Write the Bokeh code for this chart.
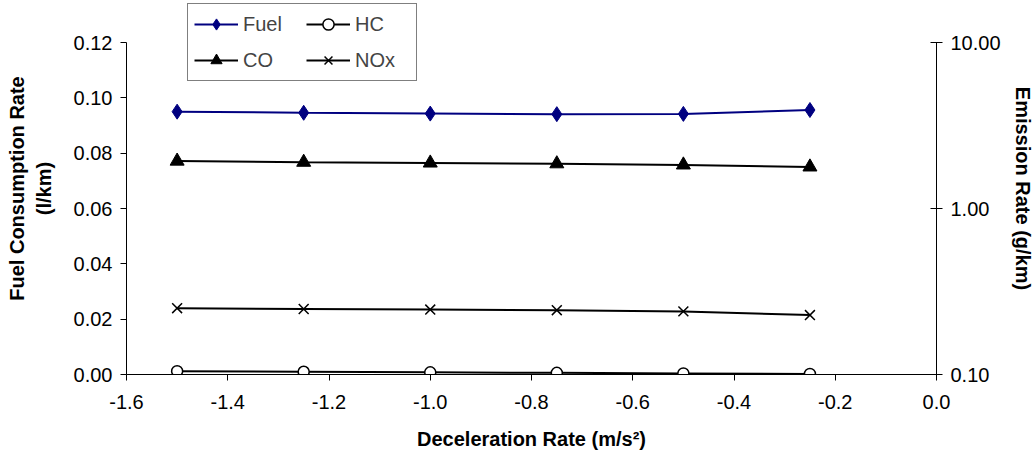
from bokeh.plotting import figure
from bokeh.models import (Range1d, LogScale, LogAxis, LinearAxis, FixedTicker,
                          PrintfTickFormatter, Legend, LegendItem)
from bokeh.embed import file_html
from bokeh.resources import INLINE

decel = [-1.5, -1.25, -1.0, -0.75, -0.5, -0.25]
fuel = [0.0950, 0.0946, 0.0943, 0.0941, 0.0942, 0.0956]
co = [1.93, 1.90, 1.88, 1.86, 1.83, 1.78]
hc = [0.1047, 0.1039, 0.1031, 0.1023, 0.1015, 0.1008]
nox = [0.251, 0.248, 0.246, 0.244, 0.240, 0.228]

x_ticks = [-1.6, -1.4, -1.2, -1.0, -0.8, -0.6, -0.4, -0.2, 0.0]
left_ticks = [0.0, 0.02, 0.04, 0.06, 0.08, 0.10, 0.12]
right_ticks = [0.1, 1.0, 10.0]

FONT = "Liberation Sans"
FS = "20px"

# frame spans y=2..374 px; axes cover 42..374 px
left_top = 0.12 * 372.0 / 332.0
right_top = 10 ** (1 + 40.0 / 166.0)

p = figure(width=1036, height=459, output_backend="svg", toolbar_location=None,
           x_range=Range1d(-1.6, 0.0), y_range=Range1d(0.0, left_top),
           min_border_left=126, min_border_right=98, min_border_top=2,
           min_border_bottom=85, y_axis_location=None)
p.extra_y_ranges = {"em": Range1d(0.1, right_top)}
p.extra_y_scales = {"em": LogScale()}
p.outline_line_color = None
p.xgrid.visible = False
p.ygrid.visible = False
p.background_fill_color = "white"
p.border_fill_color = "white"

def style_axis(ax):
    ax.axis_line_color = "black"
    ax.axis_line_width = 1
    ax.major_tick_line_color = "black"
    ax.minor_tick_line_color = None
    ax.major_label_text_font = FONT
    ax.major_label_text_font_size = FS
    ax.major_label_text_color = "black"
    ax.axis_label_text_font = FONT
    ax.axis_label_text_font_size = FS
    ax.axis_label_text_font_style = "bold"
    ax.axis_label_text_color = "black"

xa = p.xaxis[0]
style_axis(xa)
xa.ticker = FixedTicker(ticks=x_ticks)
xa.formatter = PrintfTickFormatter(format="%.1f")
xa.major_tick_in = 0
xa.major_tick_out = 6
xa.major_label_standoff = 14
xa.axis_label = "Deceleration Rate (m/s\u00b2)"
xa.axis_label_standoff = 16

la = LinearAxis(ticker=FixedTicker(ticks=left_ticks),
                formatter=PrintfTickFormatter(format="%.2f"),
                axis_label="Fuel Consumption Rate\n(l/km)", bounds=(0.0, 0.12))
style_axis(la)
la.major_tick_in = 0
la.major_tick_out = 6
la.major_label_standoff = 8
la.axis_label_standoff = 16
p.add_layout(la, "left")

ra = LogAxis(y_range_name="em", ticker=FixedTicker(ticks=right_ticks),
             formatter=PrintfTickFormatter(format="%.2f"),
             axis_label="Emission Rate (g/km)", bounds=(0.1, 10.0))
style_axis(ra)
ra.major_tick_in = 6
ra.major_tick_out = 6
ra.major_label_standoff = 8
ra.axis_label_standoff = 8
ra.axis_label_orientation = "vertical"
p.add_layout(ra, "right")

r_fuel_l = p.line(decel, fuel, line_color="#000080", line_width=2)
r_fuel_m = p.scatter(decel, fuel, marker="diamond", size=15,
                     fill_color="#000080", line_color="#000080")

r_hc_l = p.line(decel, hc, line_color="black", line_width=2, y_range_name="em")
r_hc_m = p.scatter(decel, hc, marker="circle", size=11, fill_color="white",
                   line_color="black", line_width=1.5, y_range_name="em")

r_co_l = p.line(decel, co, line_color="black", line_width=2, y_range_name="em")
r_co_m = p.scatter(decel, co, marker="triangle", size=14, fill_color="black",
                   line_color="black", y_range_name="em")

r_nox_l = p.line(decel, nox, line_color="black", line_width=2, y_range_name="em")
r_nox_m = p.scatter(decel, nox, marker="x", size=14, line_color="black",
                    line_width=1.5, y_range_name="em")

legend = Legend(items=[
    LegendItem(label="Fuel", renderers=[r_fuel_l, r_fuel_m]),
    LegendItem(label="CO", renderers=[r_co_l, r_co_m]),
    LegendItem(label="HC", renderers=[r_hc_l, r_hc_m]),
    LegendItem(label="NOx", renderers=[r_nox_l, r_nox_m]),
], location=(61, 293), ncols=2)
legend.border_line_color = "black"
legend.border_line_width = 1
legend.background_fill_alpha = 1
legend.label_text_font = FONT
legend.label_text_font_size = FS
legend.glyph_width = 44
legend.glyph_height = 28
legend.label_width = 55
legend.spacing = 8
legend.padding = 6
legend.margin = 0
legend.label_standoff = 5
p.add_layout(legend, "center")

open("out.html", "w").write(file_html(p, INLINE))
